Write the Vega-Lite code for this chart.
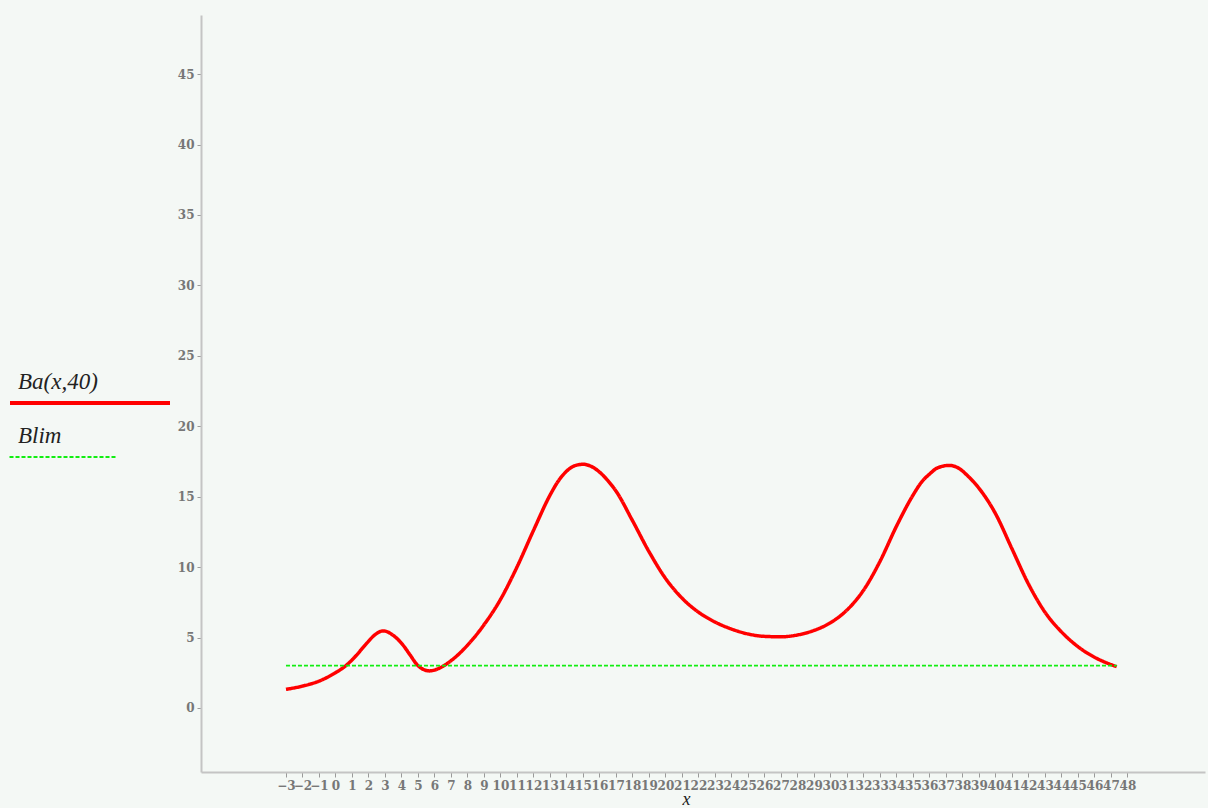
{
  "$schema": "https://vega.github.io/schema/vega-lite/v6.json",
  "width": 1004,
  "height": 757,
  "autosize": {"type": "none"},
  "padding": {"left": 201, "top": 15, "right": 3, "bottom": 36},
  "background": "#f4f8f5",
  "config": {
    "view": {"stroke": null},
    "axis": {
      "domainColor": "#c4c4c4",
      "domainWidth": 2,
      "tickColor": "#9a9a9a",
      "tickWidth": 1,
      "tickSize": 5,
      "labelColor": "#777777",
      "labelFont": "DejaVu Serif",
      "labelFontSize": 12,
      "labelFontWeight": "bold",
      "grid": false
    }
  },
  "data": {
    "values": [
      {"x": -3, "y": 1.32, "series": "Ba(x,40)"},
      {"x": -2, "y": 1.55, "series": "Ba(x,40)"},
      {"x": -1, "y": 1.9, "series": "Ba(x,40)"},
      {"x": 0, "y": 2.5, "series": "Ba(x,40)"},
      {"x": 0.63, "y": 3.0, "series": "Ba(x,40)"},
      {"x": 1.2, "y": 3.65, "series": "Ba(x,40)"},
      {"x": 1.9, "y": 4.6, "series": "Ba(x,40)"},
      {"x": 2.4, "y": 5.2, "series": "Ba(x,40)"},
      {"x": 2.9, "y": 5.47, "series": "Ba(x,40)"},
      {"x": 3.5, "y": 5.15, "series": "Ba(x,40)"},
      {"x": 4.1, "y": 4.45, "series": "Ba(x,40)"},
      {"x": 4.5, "y": 3.8, "series": "Ba(x,40)"},
      {"x": 5, "y": 3.0, "series": "Ba(x,40)"},
      {"x": 5.7, "y": 2.63, "series": "Ba(x,40)"},
      {"x": 6.5, "y": 2.95, "series": "Ba(x,40)"},
      {"x": 7, "y": 3.35, "series": "Ba(x,40)"},
      {"x": 8, "y": 4.45, "series": "Ba(x,40)"},
      {"x": 9, "y": 5.9, "series": "Ba(x,40)"},
      {"x": 10, "y": 7.7, "series": "Ba(x,40)"},
      {"x": 11, "y": 10.0, "series": "Ba(x,40)"},
      {"x": 12, "y": 12.6, "series": "Ba(x,40)"},
      {"x": 13, "y": 15.1, "series": "Ba(x,40)"},
      {"x": 13.5, "y": 16.1, "series": "Ba(x,40)"},
      {"x": 14, "y": 16.8, "series": "Ba(x,40)"},
      {"x": 14.5, "y": 17.2, "series": "Ba(x,40)"},
      {"x": 15, "y": 17.3, "series": "Ba(x,40)"},
      {"x": 15.5, "y": 17.15, "series": "Ba(x,40)"},
      {"x": 16, "y": 16.75, "series": "Ba(x,40)"},
      {"x": 16.5, "y": 16.15, "series": "Ba(x,40)"},
      {"x": 17, "y": 15.4, "series": "Ba(x,40)"},
      {"x": 18, "y": 13.3, "series": "Ba(x,40)"},
      {"x": 19, "y": 11.1, "series": "Ba(x,40)"},
      {"x": 20, "y": 9.2, "series": "Ba(x,40)"},
      {"x": 21, "y": 7.8, "series": "Ba(x,40)"},
      {"x": 22, "y": 6.8, "series": "Ba(x,40)"},
      {"x": 23, "y": 6.1, "series": "Ba(x,40)"},
      {"x": 24, "y": 5.6, "series": "Ba(x,40)"},
      {"x": 25, "y": 5.25, "series": "Ba(x,40)"},
      {"x": 26, "y": 5.08, "series": "Ba(x,40)"},
      {"x": 27, "y": 5.05, "series": "Ba(x,40)"},
      {"x": 28, "y": 5.18, "series": "Ba(x,40)"},
      {"x": 29, "y": 5.5, "series": "Ba(x,40)"},
      {"x": 30, "y": 6.05, "series": "Ba(x,40)"},
      {"x": 31, "y": 6.95, "series": "Ba(x,40)"},
      {"x": 32, "y": 8.35, "series": "Ba(x,40)"},
      {"x": 33, "y": 10.4, "series": "Ba(x,40)"},
      {"x": 34, "y": 12.9, "series": "Ba(x,40)"},
      {"x": 35, "y": 15.1, "series": "Ba(x,40)"},
      {"x": 35.5, "y": 16.0, "series": "Ba(x,40)"},
      {"x": 36, "y": 16.6, "series": "Ba(x,40)"},
      {"x": 36.5, "y": 17.05, "series": "Ba(x,40)"},
      {"x": 37.2, "y": 17.22, "series": "Ba(x,40)"},
      {"x": 37.8, "y": 17.0, "series": "Ba(x,40)"},
      {"x": 38.3, "y": 16.5, "series": "Ba(x,40)"},
      {"x": 39, "y": 15.6, "series": "Ba(x,40)"},
      {"x": 40, "y": 13.8, "series": "Ba(x,40)"},
      {"x": 41, "y": 11.3, "series": "Ba(x,40)"},
      {"x": 42, "y": 8.8, "series": "Ba(x,40)"},
      {"x": 43, "y": 6.8, "series": "Ba(x,40)"},
      {"x": 44, "y": 5.4, "series": "Ba(x,40)"},
      {"x": 45, "y": 4.35, "series": "Ba(x,40)"},
      {"x": 46, "y": 3.6, "series": "Ba(x,40)"},
      {"x": 47, "y": 3.08, "series": "Ba(x,40)"},
      {"x": 47.35, "y": 2.93, "series": "Ba(x,40)"},
      {"x": -3, "y": 3, "series": "Blim"},
      {"x": 47.35, "y": 3, "series": "Blim"}
    ]
  },
  "encoding": {
    "x": {
      "field": "x",
      "type": "quantitative",
      "scale": {"domain": [-8.15, 52.7], "nice": false, "zero": false},
      "axis": {
        "values": [-3,-2,-1,0,1,2,3,4,5,6,7,8,9,10,11,12,13,14,15,16,17,18,19,20,21,22,23,24,25,26,27,28,29,30,31,32,33,34,35,36,37,38,39,40,41,42,43,44,45,46,47,48],
        "labelPadding": 3,
        "labelOverlap": false,
        "labelFlush": false,
        "title": "x",
        "titleFont": "Liberation Serif",
        "titleFontStyle": "italic",
        "titleFontWeight": "normal",
        "titleFontSize": 18,
        "titleColor": "#222222",
        "titleX": 485,
        "titleY": 32,
        "titleBaseline": "alphabetic"
      }
    },
    "y": {
      "field": "y",
      "type": "quantitative",
      "scale": {"domain": [-4.55, 49.2], "nice": false, "zero": false},
      "axis": {
        "values": [0,5,10,15,20,25,30,35,40,45],
        "tickSize": 4,
        "labelPadding": 3,
        "title": null
      }
    },
    "color": {
      "field": "series",
      "type": "nominal",
      "scale": {"domain": ["Ba(x,40)", "Blim"], "range": ["#ff0000", "#11ee11"]},
      "legend": {
        "orient": "none",
        "legendX": -195,
        "legendY": 352,
        "title": null,
        "symbolType": "stroke",
        "symbolSize": 100,
        "rowPadding": 10,
        "labelFont": "Liberation Serif",
        "labelFontStyle": "italic",
        "labelFontSize": 23,
        "labelColor": "#222222",
        "encode": {
          "labels": {"update": {"x": {"value": 12}, "dy": {"value": 3}}},
          "symbols": {
            "update": {
              "x": {"signal": "datum.value === 'Blim' ? 57 : 84"},
              "y": {"value": 36},
              "size": {"signal": "datum.value === 'Blim' ? 11449 : 25600"},
              "strokeWidth": {"signal": "datum.value === 'Blim' ? 2 : 4"}
            }
          }
        }
      }
    },
    "strokeDash": {
      "field": "series",
      "type": "nominal",
      "scale": {"domain": ["Ba(x,40)", "Blim"], "range": [[1, 0], [4, 2]]},
      "legend": null
    }
  },
  "layer": [
    {
      "transform": [{"filter": "datum.series === 'Ba(x,40)'"}],
      "mark": {"type": "line", "interpolate": "monotone", "strokeWidth": 3.5}
    },
    {
      "transform": [{"filter": "datum.series === 'Blim'"}],
      "mark": {"type": "line", "strokeWidth": 1.8}
    }
  ]
}
